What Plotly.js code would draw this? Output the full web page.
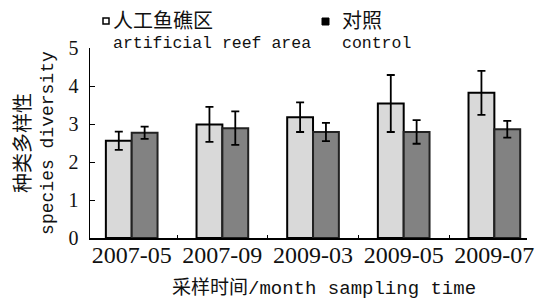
<!DOCTYPE html>
<html><head><meta charset="utf-8">
<script src="https://cdn.plot.ly/plotly-3.0.1.min.js"></script>
<style>html,body{margin:0;padding:0;background:#fff;}#chart{width:539px;height:301px;}</style>
</head><body><div id="chart"></div>
<script>
const categories = ['2007-05', '2007-09', '2009-03', '2009-05', '2009-07'];
const reefValues = [2.56, 2.99, 3.18, 3.54, 3.82];
const reefErrors = [0.24, 0.46, 0.39, 0.75, 0.58];
const controlValues = [2.77, 2.89, 2.79, 2.79, 2.86];
const controlErrors = [0.16, 0.44, 0.24, 0.31, 0.22];
const yTicks = [0, 1, 2, 3, 4, 5];

const serif = '"Liberation Serif", "Times New Roman", serif';
const mono = '"Liberation Mono", "DejaVu Sans Mono", monospace';
const cjk = '"Noto Sans CJK SC", sans-serif';
const cjkStyle = "'Noto Sans CJK SC', sans-serif";

const traces = [
  {type: 'bar', name: '人工鱼礁区 artificial reef area', x: categories, y: reefValues,
   marker: {color: '#d9d9d9', line: {color: '#000', width: 2}},
   error_y: {type: 'data', array: reefErrors, visible: true, color: '#000', thickness: 1.8, width: 4}},
  {type: 'bar', name: '对照 control', x: categories, y: controlValues,
   marker: {color: '#828282', line: {color: '#222', width: 2}},
   error_y: {type: 'data', array: controlErrors, visible: true, color: '#000', thickness: 1.8, width: 4}}
];

const layout = {
  width: 539, height: 301,
  margin: {l: 90, r: 12, t: 48, b: 63},
  paper_bgcolor: '#fff', plot_bgcolor: '#fff',
  showlegend: false,
  barmode: 'group', bargap: 0.43, bargroupgap: 0,
  font: {family: serif, color: '#111'},
  xaxis: {type: 'category', range: [-0.46, 4.36], showline: true, linecolor: '#000', linewidth: 1.5,
    ticks: 'inside', tickson: 'boundaries', ticklen: 3, tickcolor: '#000', showgrid: false, zeroline: false,
    tickfont: {family: serif, size: 24, color: '#111'}, ticklabelstandoff: -5},
  yaxis: {range: [0, 5], tickvals: yTicks, ticktext: yTicks.map(String), showline: true, linecolor: '#000', linewidth: 1.5,
    ticks: 'inside', ticklen: 5, tickcolor: '#000', showgrid: false, zeroline: false,
    tickfont: {family: serif, size: 20, color: '#111'}, ticklabelstandoff: 6},
  annotations: [
    {xref: 'paper', yref: 'paper', x: (324 - 90) / 437, y: -0.25, xanchor: 'center', yanchor: 'middle', showarrow: false,
     text: '<span style="font-family:' + cjkStyle + '">采样时间</span>/month sampling time',
     font: {family: mono, size: 19, color: '#111'}},
    {xref: 'paper', yref: 'paper', x: -0.133, y: 0.5, xanchor: 'center', yanchor: 'middle', showarrow: false, textangle: -90,
     text: '<span style="font-family:' + cjkStyle + ';font-size:20px">种类多样性</span><br>species diversity',
     font: {family: mono, size: 18, color: '#111'}},
    {xref: 'paper', yref: 'paper', x: (111 - 90) / 437, y: (238 - 20) / 190, xanchor: 'left', yanchor: 'middle', showarrow: false,
     text: '人工鱼礁区', font: {family: cjk, size: 20, color: '#111'}},
    {xref: 'paper', yref: 'paper', x: (111 - 90) / 437, y: (238 - 44) / 190, xanchor: 'left', yanchor: 'middle', showarrow: false,
     text: 'artificial reef area', font: {family: mono, size: 16.5, color: '#111'}},
    {xref: 'paper', yref: 'paper', x: (340 - 90) / 437, y: (238 - 20) / 190, xanchor: 'left', yanchor: 'middle', showarrow: false,
     text: '对照', font: {family: cjk, size: 20, color: '#111'}},
    {xref: 'paper', yref: 'paper', x: (340 - 90) / 437, y: (238 - 44) / 190, xanchor: 'left', yanchor: 'middle', showarrow: false,
     text: 'control', font: {family: mono, size: 16.5, color: '#111'}}
  ],
  shapes: [
    {type: 'rect', xref: 'paper', yref: 'paper', x0: (103 - 90) / 437, x1: (109 - 90) / 437, y0: (238 - 24) / 190, y1: (238 - 18) / 190,
     line: {color: '#000', width: 1.5}, fillcolor: '#fff'},
    {type: 'rect', xref: 'paper', yref: 'paper', x0: (322 - 90) / 437, x1: (329 - 90) / 437, y0: (238 - 25) / 190, y1: (238 - 18) / 190,
     line: {color: '#000', width: 1}, fillcolor: '#000'}
  ]
};

Plotly.newPlot('chart', traces, layout, {staticPlot: true, displayModeBar: false});
</script></body></html>
